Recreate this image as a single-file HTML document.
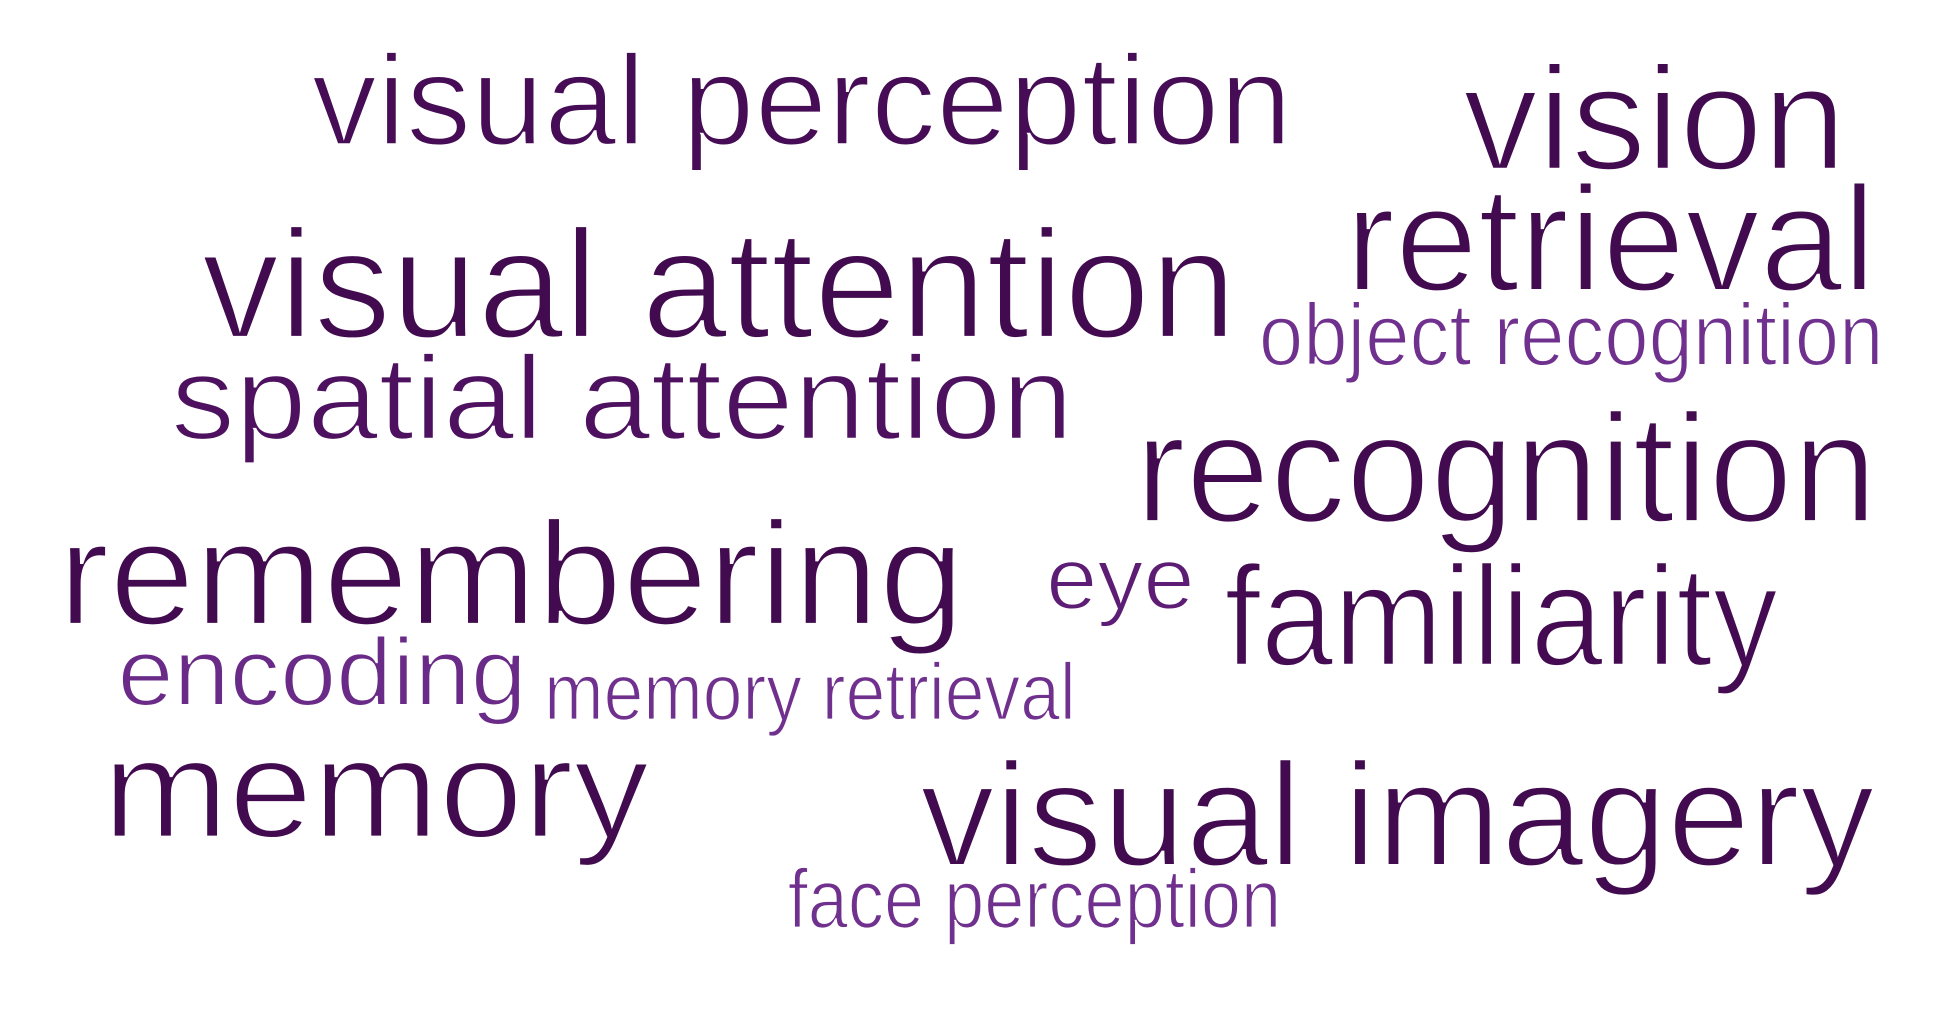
<!DOCTYPE html>
<html><head><meta charset="utf-8"><style>
html,body{margin:0;padding:0;background:#fff;width:1939px;height:1010px;overflow:hidden}
svg text{font-family:"Liberation Sans",sans-serif;}
</style></head><body>
<svg width="1939" height="1010" viewBox="0 0 1939 1010">
<g id="words"></g>
</svg>
<script>
const words=["visual perception","vision","retrieval","visual attention","object recognition","spatial attention","recognition","remembering","eye","familiarity","encoding","memory retrieval","memory","visual imagery","face perception"];
const xs=[311.6,1462.9,1345.4,201.6,1258.9,170.7,1135.2,58.1,1046.2,1224.2,117.5,544.1,102.6,920,787.7];
const ys=[144.7,169.4,290.6,337.6,364.8,439,521.8,624.5,608.4,665.3,704.9,719.7,837.2,865.6,927.4];
const ws=[980.6,383.3,530.5,1035,624.5,902.7,742,906.4,148.4,554,409.3,531.7,546.6,954.7,493.4];
const fs=[128.7,147.7,150,154.9,88.2,119.2,154.9,147.7,88.2,143,95.3,81,140.6,147.7,83.4];
const cols=["#460c55","#420a4f","#420a4f","#420a4f","#70318e","#4e1160","#420a4f","#420a4f","#5e1d74","#440b52","#6a2b88","#70318e","#420a4f","#420a4f","#70318e"];
const g=document.getElementById('words');
const NS="http://www.w3.org/2000/svg";
words.forEach((w,i)=>{
  const t=document.createElementNS(NS,'text');
  t.setAttribute('x',xs[i]);t.setAttribute('y',ys[i]);
  t.setAttribute('font-size',fs[i]);t.setAttribute('fill',cols[i]);
  t.setAttribute('stroke','#ffffff');t.setAttribute('stroke-width',(fs[i]*0.022).toFixed(2));
  t.setAttribute('textLength',ws[i]);t.setAttribute('lengthAdjust','spacingAndGlyphs');
  t.textContent=w;
  
  
  g.appendChild(t);
});
</script>
</body></html>
